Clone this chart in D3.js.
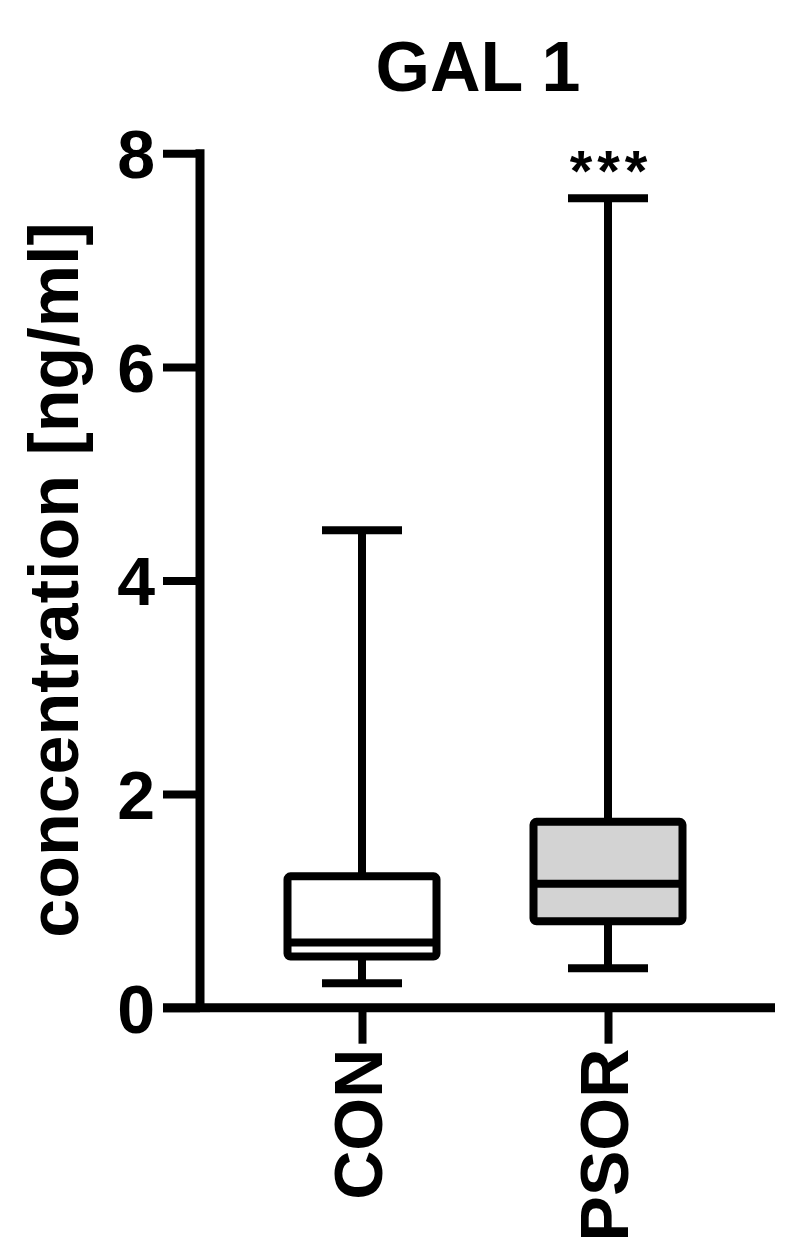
<!DOCTYPE html>
<html>
<head>
<meta charset="utf-8">
<script src="https://cdn.jsdelivr.net/npm/d3@7"></script>
<style>
  body { margin: 0; background: #fff; }
  svg text { font-family: "Liberation Sans", Arial, sans-serif; font-weight: bold; fill: #000; }
</style>
</head>
<body>
<div id="chart"></div>
<script>
// box plot summary values (ng/ml)
var groups = ['CON', 'PSOR'];
var mins = [0.23, 0.37];
var q1s = [0.48, 0.81];
var medians = [0.61, 1.16];
var q3s = [1.23, 1.74];
var maxs = [4.47, 7.58];
var stars = ['', '***'];
var yTicks = [0, 2, 4, 6, 8];

var boxFill = {'CON': '#ffffff', 'PSOR': '#d3d3d3'};

var width = 810, height = 1258;
var svg = d3.select('#chart').append('svg')
  .attr('width', width)
  .attr('height', height);

var y = d3.scaleLinear().domain([0, 8]).range([1007.7, 153.3]);
var x = d3.scalePoint().domain(groups).range([362, 608]);

var boxHalf = 74.5, capHalf = 40, lw = 8;

var data = groups.map(function(g, i) {
  return {name: g, min: mins[i], q1: q1s[i], med: medians[i], q3: q3s[i], max: maxs[i], sig: stars[i]};
});

// title
svg.append('text')
  .attr('x', 478)
  .attr('y', 91)
  .attr('text-anchor', 'middle')
  .style('font-size', '70px')
  .text('GAL 1');

// y axis
var yAxis = svg.append('g')
  .attr('transform', 'translate(200,0)')
  .call(d3.axisLeft(y).tickValues(yTicks).tickSize(37).tickPadding(8).tickFormat(d3.format('d')));
yAxis.select('.domain').remove();
yAxis.selectAll('.tick line').attr('stroke', '#000').attr('stroke-width', lw);
yAxis.selectAll('.tick text').style('font-size', '68px').attr('dy', '0.36em');
svg.append('line')
  .attr('x1', 200).attr('x2', 200)
  .attr('y1', y(8) - lw / 2).attr('y2', y(0) + lw / 2)
  .attr('stroke', '#000').attr('stroke-width', lw + 1);

// y label
svg.append('text')
  .attr('transform', 'translate(78,580) rotate(-90)')
  .attr('text-anchor', 'middle')
  .style('font-size', '70px')
  .text('concentration [ng/ml]');

// x axis
var xAxis = svg.append('g')
  .attr('transform', 'translate(0,' + y(0) + ')')
  .call(d3.axisBottom(x).tickSize(36).tickFormat(''));
xAxis.select('.domain').remove();
xAxis.selectAll('.tick line').attr('stroke', '#000').attr('stroke-width', lw);
svg.append('line')
  .attr('x1', 163).attr('x2', 775)
  .attr('y1', y(0)).attr('y2', y(0))
  .attr('stroke', '#000').attr('stroke-width', lw + 1);

svg.selectAll('.xlabel')
  .data(groups)
  .enter().append('text')
  .attr('class', 'xlabel')
  .attr('transform', function(d) { return 'translate(' + x(d) + ',' + (y(0) + 41) + ') rotate(-90)'; })
  .attr('text-anchor', 'end')
  .attr('dy', '0.3em')
  .style('font-size', '68px')
  .text(function(d) { return d; });

// boxes
var boxes = svg.selectAll('.box')
  .data(data)
  .enter().append('g')
  .attr('class', 'box')
  .attr('transform', function(d) { return 'translate(' + x(d.name) + ',0)'; });

// whiskers
boxes.append('line')
  .attr('x1', 0).attr('x2', 0)
  .attr('y1', function(d) { return y(d.max); })
  .attr('y2', function(d) { return y(d.q3); })
  .attr('stroke', '#000').attr('stroke-width', lw);
boxes.append('line')
  .attr('x1', 0).attr('x2', 0)
  .attr('y1', function(d) { return y(d.q1); })
  .attr('y2', function(d) { return y(d.min); })
  .attr('stroke', '#000').attr('stroke-width', lw);
boxes.append('line')
  .attr('x1', -capHalf).attr('x2', capHalf)
  .attr('y1', function(d) { return y(d.max); })
  .attr('y2', function(d) { return y(d.max); })
  .attr('stroke', '#000').attr('stroke-width', lw);
boxes.append('line')
  .attr('x1', -capHalf).attr('x2', capHalf)
  .attr('y1', function(d) { return y(d.min); })
  .attr('y2', function(d) { return y(d.min); })
  .attr('stroke', '#000').attr('stroke-width', lw);

boxes.append('rect')
  .attr('x', -boxHalf)
  .attr('width', boxHalf * 2)
  .attr('y', function(d) { return y(d.q3); })
  .attr('height', function(d) { return y(d.q1) - y(d.q3); })
  .attr('rx', 3)
  .attr('fill', function(d) { return boxFill[d.name]; })
  .attr('stroke', '#000')
  .attr('stroke-width', lw);

boxes.append('line')
  .attr('x1', -boxHalf).attr('x2', boxHalf)
  .attr('y1', function(d) { return y(d.med); })
  .attr('y2', function(d) { return y(d.med); })
  .attr('stroke', '#000').attr('stroke-width', lw);

// significance
boxes.append('text')
  .attr('text-anchor', 'middle')
  .attr('x', 3)
  .attr('y', function(d) { return y(d.max) - 7; })
  .style('font-size', '58px')
  .style('letter-spacing', '5px')
  .text(function(d) { return d.sig; });
</script>
</body>
</html>
